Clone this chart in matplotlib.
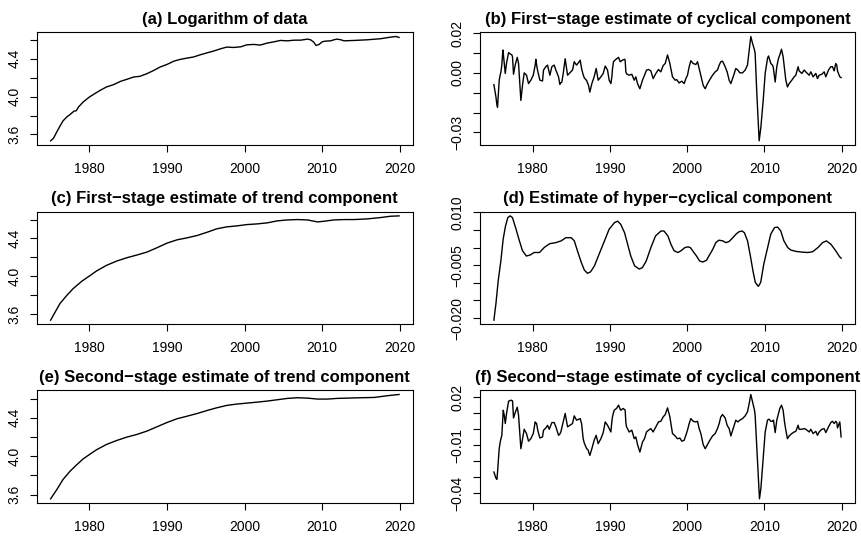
import numpy as np
import matplotlib
matplotlib.use("Agg")
import matplotlib.pyplot as plt

plt.rcParams['font.family'] = ['Liberation Sans', 'DejaVu Sans']

# (a) log of the series
t_a = [1975.0, 1975.35, 1975.8, 1976.2, 1976.6, 1977.1, 1977.5, 1978.0, 1978.3, 1978.6,
       1979.2, 1980.0, 1980.7, 1981.4, 1982.2, 1983.1, 1984.0, 1984.8, 1985.7, 1986.5,
       1987.4, 1988.3, 1989.1, 1990.0, 1990.9, 1991.7, 1992.6, 1993.4, 1994.3, 1995.2,
       1996.0, 1996.9, 1997.7, 1998.6, 1999.5, 2000.3, 2001.2, 2002.0, 2002.9, 2003.8,
       2004.6, 2005.5, 2006.4, 2007.2, 2008.1, 2008.5, 2008.9, 2009.2, 2009.6, 2010.0,
       2010.4, 2011.1, 2011.5, 2011.9, 2012.4, 2012.8, 2014.1, 2015.8, 2017.5, 2018.8,
       2019.5, 2019.9]
log_y = [3.533, 3.558, 3.628, 3.688, 3.744, 3.786, 3.811, 3.846, 3.851, 3.891,
         3.944, 3.996, 4.032, 4.067, 4.102, 4.126, 4.161, 4.182, 4.207, 4.214,
         4.242, 4.277, 4.312, 4.340, 4.375, 4.393, 4.407, 4.418, 4.442, 4.463,
         4.481, 4.505, 4.523, 4.519, 4.526, 4.547, 4.551, 4.544, 4.565, 4.579,
         4.593, 4.589, 4.596, 4.596, 4.607, 4.600, 4.575, 4.540, 4.551, 4.579,
         4.586, 4.589, 4.600, 4.607, 4.600, 4.589, 4.593, 4.600, 4.611, 4.628,
         4.635, 4.625]

# (b) and (f) cyclical components share the same sampling
t_cyc = [1975.00, 1975.26, 1975.39, 1975.47, 1975.60, 1975.69, 1975.82, 1975.91, 1976.03, 1976.16,
         1976.21, 1976.34, 1976.47, 1976.64, 1976.90, 1977.11, 1977.20, 1977.33, 1977.41, 1977.54,
         1977.76, 1978.02, 1978.19, 1978.49, 1978.71, 1978.92, 1979.22, 1979.48, 1979.78, 1980.09,
         1980.34, 1980.43, 1980.52, 1980.69, 1980.95, 1981.29, 1981.42, 1981.72, 1981.94, 1982.16,
         1982.24, 1982.50, 1982.80, 1983.02, 1983.36, 1983.53, 1983.66, 1983.79, 1983.97, 1984.22,
         1984.53, 1984.83, 1985.17, 1985.39, 1985.69, 1985.95, 1986.16, 1986.34, 1986.55, 1986.68,
         1986.90, 1986.98, 1987.20, 1987.24, 1987.41, 1987.67, 1987.97, 1988.23, 1988.49, 1988.84,
         1989.14, 1989.40, 1989.70, 1989.91, 1990.13, 1990.26, 1990.34, 1990.47, 1990.56, 1990.78,
         1990.86, 1991.12, 1991.34, 1991.42, 1991.64, 1991.72, 1991.94, 1991.98, 1992.07, 1992.16,
         1992.50, 1992.84, 1993.15, 1993.36, 1993.58, 1993.88, 1994.22, 1994.44, 1994.48, 1994.74,
         1995.00, 1995.30, 1995.60, 1995.95, 1996.29, 1996.59, 1996.90, 1997.16, 1997.46, 1997.76,
         1998.10, 1998.45, 1998.66, 1998.75, 1998.97, 1999.05, 1999.31, 1999.61, 1999.83, 2000.04,
         2000.26, 2000.47, 2000.78, 2001.12, 2001.34, 2001.55, 2001.77, 2002.07, 2002.33, 2002.63,
         2002.93, 2003.28, 2003.62, 2003.92, 2004.14, 2004.35, 2004.57, 2004.91, 2005.17, 2005.43,
         2005.65, 2005.95, 2006.29, 2006.55, 2006.81, 2007.16, 2007.50, 2007.80, 2008.02, 2008.23,
         2008.45, 2008.71, 2008.79, 2009.01, 2009.22, 2009.31, 2009.35, 2009.53, 2009.83, 2010.09,
         2010.39, 2010.52, 2010.60, 2010.82, 2011.03, 2011.12, 2011.16, 2011.38, 2011.59, 2011.81,
         2011.98, 2012.20, 2012.41, 2012.59, 2012.76, 2012.97, 2013.19, 2013.53, 2013.84, 2014.05,
         2014.35, 2014.48, 2014.83, 2015.13, 2015.34, 2015.78, 2015.99, 2016.29, 2016.64, 2016.85,
         2017.07, 2017.41, 2017.72, 2017.93, 2018.28, 2018.58, 2018.79, 2019.01, 2019.22, 2019.35,
         2019.44, 2019.74, 2019.91]

cyc1 = [-0.0059, -0.0120, -0.0160, -0.0173, -0.0090, -0.0037, -0.0010, 0.0005, 0.0040, 0.0115,
        0.0100, 0.0050, -0.0003, 0.0050, 0.0102, 0.0095, 0.0093, 0.0090, 0.0080, -0.0007,
        0.0040, 0.0078, 0.0047, -0.0139, -0.0060, 0.0000, -0.0012, -0.0054, -0.0037, -0.0012,
        0.0039, 0.0068, 0.0040, 0.0005, -0.0037, -0.0041, 0.0014, 0.0031, 0.0039, 0.0000,
        -0.0012, 0.0031, 0.0039, 0.0014, -0.0020, -0.0058, -0.0050, -0.0046, -0.0003, 0.0071,
        -0.0012, 0.0000, 0.0014, 0.0056, 0.0039, 0.0051, 0.0064, 0.0022, -0.0010, -0.0024,
        -0.0035, -0.0037, -0.0058, -0.0063, -0.0097, -0.0054, -0.0020, 0.0022, -0.0037, -0.0020,
        -0.0003, 0.0034, 0.0014, -0.0037, -0.0054, -0.0020, 0.0020, 0.0056, 0.0060, 0.0068,
        0.0070, 0.0078, 0.0056, 0.0058, 0.0064, 0.0066, 0.0068, 0.0060, 0.0005, -0.0005,
        -0.0012, -0.0007, -0.0037, -0.0020, -0.0054, -0.0080, -0.0037, -0.0017, -0.0012, 0.0014,
        0.0017, 0.0010, -0.0029, -0.0003, 0.0017, 0.0005, 0.0037, 0.0047, 0.0090, 0.0047,
        -0.0020, -0.0037, -0.0034, -0.0040, -0.0051, -0.0048, -0.0042, -0.0054, -0.0029, -0.0012,
        0.0031, 0.0061, 0.0047, 0.0042, 0.0056, 0.0022, -0.0012, -0.0063, -0.0080, -0.0054,
        -0.0034, -0.0012, 0.0005, 0.0014, 0.0039, 0.0056, 0.0059, 0.0031, 0.0005, -0.0037,
        -0.0054, -0.0020, 0.0022, 0.0014, 0.0000, 0.0000, 0.0014, 0.0039, 0.0115, 0.0183,
        0.0149, 0.0115, 0.0098, -0.0105, -0.0275, -0.0342, -0.0330, -0.0275, -0.0139, -0.0003,
        0.0073, 0.0085, 0.0075, 0.0047, 0.0039, 0.0031, 0.0020, -0.0046, 0.0031, 0.0073,
        0.0090, 0.0119, 0.0081, 0.0022, -0.0037, -0.0071, -0.0054, -0.0037, -0.0020, -0.0012,
        0.0031, 0.0010, -0.0003, 0.0014, 0.0005, -0.0012, 0.0005, -0.0020, -0.0003, -0.0029,
        -0.0012, -0.0007, 0.0005, -0.0020, 0.0014, 0.0031, 0.0031, 0.0010, 0.0047, 0.0039,
        0.0010, -0.0020, -0.0024]

cyc2 = [-0.0268, -0.0306, -0.0314, -0.0270, -0.0184, -0.0120, -0.0080, -0.0060, -0.0038, 0.0080,
        0.0119, 0.0088, 0.0036, 0.0099, 0.0176, 0.0180, 0.0182, 0.0180, 0.0178, 0.0071,
        0.0105, 0.0138, 0.0088, -0.0122, -0.0059, 0.0000, -0.0027, -0.0075, -0.0059, -0.0027,
        0.0046, 0.0040, 0.0036, -0.0010, -0.0055, -0.0048, -0.0006, 0.0008, 0.0025, 0.0000,
        0.0010, 0.0042, 0.0042, 0.0015, -0.0038, -0.0030, -0.0017, 0.0010, 0.0046, 0.0099,
        0.0015, 0.0025, 0.0036, 0.0084, 0.0057, 0.0062, 0.0067, 0.0036, -0.0059, -0.0085,
        -0.0111, -0.0120, -0.0132, -0.0140, -0.0164, -0.0122, -0.0069, -0.0038, -0.0090, -0.0059,
        -0.0021, 0.0046, 0.0025, 0.0004, -0.0017, 0.0050, 0.0078, 0.0105, 0.0119, 0.0128,
        0.0130, 0.0151, 0.0125, 0.0119, 0.0128, 0.0130, 0.0122, 0.0119, 0.0040, 0.0015,
        -0.0017, -0.0006, -0.0059, -0.0048, -0.0096, -0.0143, -0.0080, -0.0062, -0.0059, -0.0017,
        -0.0006, 0.0004, -0.0017, 0.0015, 0.0046, 0.0050, 0.0078, 0.0092, 0.0134, 0.0078,
        -0.0027, -0.0042, -0.0055, -0.0059, -0.0057, -0.0055, -0.0075, -0.0069, -0.0038, -0.0006,
        0.0036, 0.0067, 0.0050, 0.0046, 0.0050, 0.0004, -0.0027, -0.0096, -0.0122, -0.0096,
        -0.0069, -0.0042, -0.0027, 0.0004, 0.0036, 0.0078, 0.0092, 0.0071, 0.0025, 0.0004,
        -0.0042, 0.0004, 0.0057, 0.0046, 0.0057, 0.0067, 0.0084, 0.0109, 0.0161, 0.0218,
        0.0172, 0.0119, 0.0088, -0.0122, -0.0310, -0.0410, -0.0436, -0.0373, -0.0184, -0.0017,
        0.0057, 0.0062, 0.0063, 0.0050, 0.0050, 0.0055, 0.0057, -0.0021, 0.0057, 0.0099,
        0.0130, 0.0151, 0.0119, 0.0046, -0.0006, -0.0059, -0.0042, -0.0027, -0.0017, -0.0013,
        0.0025, 0.0000, 0.0000, 0.0004, 0.0000, -0.0017, 0.0000, -0.0027, -0.0013, -0.0038,
        -0.0017, 0.0000, 0.0004, -0.0021, 0.0015, 0.0042, 0.0050, 0.0036, 0.0050, 0.0042,
        0.0008, 0.0046, -0.0048]

# (c) first-stage trend
t_tr1 = [1975.0, 1975.6, 1976.2, 1977.1, 1977.9, 1979.0, 1980.0, 1980.9, 1982.2, 1983.5,
         1984.8, 1986.1, 1987.4, 1988.7, 1990.0, 1991.3, 1992.6, 1993.9, 1995.2, 1996.4,
         1997.7, 1999.0, 2000.3, 2001.6, 2002.9, 2004.2, 2005.5, 2006.8, 2008.1, 2009.4,
         2010.2, 2011.5, 2012.8, 2014.1, 2015.8, 2017.5, 2018.8, 2019.9]
trend1 = [3.537, 3.625, 3.712, 3.800, 3.870, 3.947, 4.004, 4.056, 4.116, 4.161,
          4.196, 4.225, 4.256, 4.302, 4.351, 4.386, 4.407, 4.432, 4.467, 4.502,
          4.523, 4.533, 4.547, 4.554, 4.565, 4.586, 4.596, 4.600, 4.596, 4.575,
          4.582, 4.596, 4.600, 4.600, 4.607, 4.621, 4.635, 4.639]

# (d) hyper-cyclical component
t_hyp = [1975.0, 1975.26, 1975.56, 1975.9, 1976.2, 1976.5, 1976.8, 1977.1, 1977.4, 1977.8,
         1978.3, 1978.7, 1979.2, 1979.7, 1980.2, 1980.9, 1981.5, 1982.2, 1983.0, 1983.7,
         1984.3, 1985.0, 1985.4, 1985.8, 1986.3, 1986.7, 1987.1, 1987.5, 1988.0, 1988.6,
         1989.3, 1989.9, 1990.6, 1991.0, 1991.4, 1991.9, 1992.3, 1992.7, 1993.2, 1993.8,
         1994.2, 1994.7, 1995.3, 1995.9, 1996.6, 1997.0, 1997.5, 1997.9, 1998.3, 1998.8,
         1999.2, 1999.7, 2000.1, 2000.4, 2000.7, 2001.2, 2001.6, 2002.0, 2002.5, 2002.8,
         2003.3, 2003.7, 2004.1, 2004.6, 2005.0, 2005.4, 2005.9, 2006.3, 2006.7, 2007.1,
         2007.4, 2007.8, 2008.2, 2008.5, 2008.8, 2009.2, 2009.5, 2009.9, 2010.4, 2010.8,
         2011.3, 2011.7, 2012.1, 2012.5, 2013.0, 2013.4, 2014.1, 2014.9, 2015.6, 2016.2,
         2016.9, 2017.5, 2018.0, 2018.6, 2019.2, 2019.7, 2019.9]
hyper = [-0.0206, -0.0160, -0.0094, -0.0038, 0.0024, 0.0061, 0.0085, 0.0090, 0.0085, 0.0057,
         0.0019, -0.0009, -0.0024, -0.0021, -0.0014, -0.0014, 0.0000, 0.0011, 0.0014, 0.0019,
         0.0028, 0.0028, 0.0019, -0.0009, -0.0042, -0.0064, -0.0073, -0.0069, -0.0052, -0.0019,
         0.0019, 0.0052, 0.0071, 0.0075, 0.0066, 0.0042, 0.0009, -0.0024, -0.0052, -0.0061,
         -0.0057, -0.0038, 0.0000, 0.0033, 0.0047, 0.0047, 0.0033, 0.0009, -0.0009, -0.0014,
         -0.0009, 0.0000, 0.0002, 0.0000, -0.0009, -0.0024, -0.0038, -0.0041, -0.0036, -0.0024,
         -0.0005, 0.0014, 0.0021, 0.0019, 0.0014, 0.0017, 0.0028, 0.0038, 0.0045, 0.0047,
         0.0042, 0.0019, -0.0028, -0.0066, -0.0099, -0.0110, -0.0099, -0.0047, 0.0000, 0.0038,
         0.0057, 0.0058, 0.0047, 0.0019, 0.0000, -0.0007, -0.0011, -0.0013, -0.0014, -0.0012,
         0.0000, 0.0014, 0.0019, 0.0009, -0.0009, -0.0026, -0.0030]

# (e) second-stage trend
t_tr2 = [1975.0, 1975.8, 1976.6, 1977.5, 1978.4, 1979.2, 1980.0, 1980.9, 1982.2, 1983.5,
         1984.8, 1986.1, 1987.4, 1988.7, 1990.0, 1991.3, 1992.6, 1993.9, 1995.2, 1996.4,
         1997.7, 1999.0, 2000.3, 2001.6, 2002.9, 2004.2, 2005.5, 2006.8, 2008.1, 2009.4,
         2010.7, 2011.9, 2013.2, 2015.0, 2016.7, 2018.4, 2019.9]
trend2 = [3.555, 3.652, 3.757, 3.843, 3.913, 3.972, 4.017, 4.066, 4.122, 4.163,
          4.198, 4.226, 4.261, 4.306, 4.351, 4.390, 4.417, 4.445, 4.477, 4.504,
          4.529, 4.543, 4.553, 4.563, 4.574, 4.588, 4.602, 4.609, 4.605, 4.595,
          4.595, 4.602, 4.605, 4.609, 4.612, 4.630, 4.643]

year_ticks = [1980, 1990, 2000, 2010, 2020]
level_ticks = [3.6, 3.8, 4.0, 4.2, 4.4, 4.6]
level_labels = ['3.6', '', '4.0', '', '4.4', '']

M = '\u2212'
panels = [
    ('(a) Logarithm of data', t_a, log_y, level_ticks, level_labels),
    (f'(b) First{M}stage estimate of cyclical component', t_cyc, cyc1,
     [-0.03, -0.02, -0.01, 0.0, 0.01, 0.02],
     [f'{M}0.03', '', '', '0.00', '', '0.02']),
    (f'(c) First{M}stage estimate of trend component', t_tr1, trend1, level_ticks, level_labels),
    (f'(d) Estimate of hyper{M}cyclical component', t_hyp, hyper,
     [-0.020, -0.015, -0.010, -0.005, 0.0, 0.005, 0.010],
     [f'{M}0.020', '', '', f'{M}0.005', '', '', '0.010']),
    (f'(e) Second{M}stage estimate of trend component', t_tr2, trend2, level_ticks, level_labels),
    (f'(f) Second{M}stage estimate of cyclical component', t_cyc, cyc2,
     [-0.04, -0.03, -0.02, -0.01, 0.0, 0.01, 0.02],
     [f'{M}0.04', '', '', f'{M}0.01', '', '', '0.02']),
]

W, H = 862, 538
fig = plt.figure(figsize=(W / 100, H / 100), dpi=100)
fig.patch.set_facecolor('white')

# plot regions in pixels: (left, right) per column, (top, bottom) per row
cols = [(36.7, 413.0), (480.0, 855.0)]
rows = [(32.3, 145.0), (211.7, 324.3), (390.3, 503.0)]

for i, (title, x, y, yt, ylab) in enumerate(panels):
    l, r = cols[i % 2]
    t, b = rows[i // 2]
    ax = fig.add_axes([l / W, 1 - b / H, (r - l) / W, (b - t) / H])
    ax.plot(x, y, color='black', lw=1.0)
    ax.margins(x=0.04, y=0.04)
    ax.set_xticks(year_ticks)
    ax.set_xticklabels([str(v) for v in year_ticks], fontsize=10)
    ax.set_yticks(yt)
    ax.set_yticklabels(ylab, fontsize=10, rotation=90, va='center')
    ax.tick_params(direction='out', length=5, width=0.8, color='black', pad=6)
    ax.tick_params(axis='x', pad=7)
    for s in ax.spines.values():
        s.set_linewidth(0.8)
        s.set_color('black')
    ax.set_title(title, fontsize=12, fontweight='bold', pad=6)

fig.savefig('out.png', dpi=100)
